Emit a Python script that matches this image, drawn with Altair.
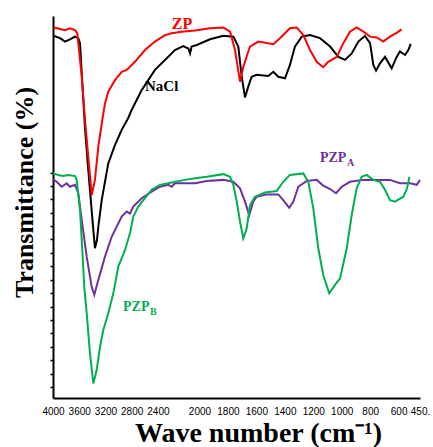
import altair as alt
import pandas as pd

# ---- data (wavenumber cm^-1, transmittance arbitrary %) ----
zp_wn = [3985, 3893, 3817, 3741, 3664, 3629, 3614, 3562, 3512, 3410, 3360, 3309, 3248, 3207, 3157,
         3055, 2952, 2876, 2750, 2597, 2445, 2292, 2195, 2125, 2031, 1926, 1832, 1785, 1750, 1715,
         1692, 1645, 1586, 1481, 1434, 1364, 1317, 1270, 1223, 1176, 1130, 1095, 1035, 989, 942,
         895, 848, 801, 754, 708, 661, 614, 579]
zp_t = [97.0, 96.6, 96.3, 96.8, 96.3, 95.5, 92.9, 84.1, 72.8, 53.1, 57.1, 65.8, 72.8, 77.1, 80.2,
        83.2, 85.4, 85.9, 88.0, 91.1, 93.3, 95.0, 95.5, 95.9, 96.2, 96.8, 97.0, 95.9, 91.1, 82.8,
        86.7, 92.0, 93.3, 92.6, 94.2, 96.8, 97.0, 95.0, 91.1, 88.0, 86.6, 88.0, 89.3, 92.9, 95.9,
        97.0, 95.9, 94.6, 94.4, 93.3, 94.6, 95.6, 96.5]

nacl_wn = [3985, 3893, 3817, 3741, 3664, 3614, 3588, 3512, 3462, 3385, 3360, 3329, 3309, 3257, 3222,
           3157, 3055, 2952, 2852, 2800, 2647, 2597, 2445, 2292, 2172, 2114, 2078, 2066, 2055, 2019,
           1926, 1832, 1762, 1727, 1703, 1680, 1657, 1633, 1598, 1516, 1481, 1446, 1399, 1364, 1329,
           1281, 1223, 1153, 1082, 1024, 977, 930, 883, 837, 801, 778, 759, 731, 696, 649, 614, 591,
           555, 532, 515]
nacl_t = [94.8, 94.2, 93.3, 93.9, 94.6, 94.2, 92.9, 70.6, 59.7, 44.0, 39.2, 41.4, 44.8, 51.8, 55.2,
          61.4, 66.2, 70.2, 73.3, 75.4, 80.6, 81.9, 85.9, 88.5, 91.1, 92.1, 91.5, 90.2, 92.0, 92.4,
          93.9, 94.8, 94.6, 92.0, 84.1, 78.7, 81.5, 84.1, 84.6, 84.3, 85.4, 84.1, 83.7, 87.2, 92.0,
          94.6, 95.0, 94.2, 92.0, 89.3, 88.5, 90.2, 93.3, 94.8, 92.9, 87.2, 85.7, 87.6, 89.3, 86.3,
          89.3, 90.7, 89.8, 91.1, 92.7]

pzpa_wn = [4000, 3944, 3867, 3791, 3741, 3664, 3614, 3562, 3486, 3410, 3370, 3309, 3207, 3105, 2952,
           2876, 2826, 2775, 2647, 2495, 2368, 2242, 2195, 2172, 2102, 2031, 1949, 1832, 1762, 1715,
           1680, 1650, 1622, 1598, 1527, 1446, 1411, 1369, 1340, 1305, 1246, 1176, 1130, 1082, 1040,
           1000, 942, 848, 754, 661, 591, 520, 473, 450]
pzpa_t = [57.3, 56.6, 55.3, 56.2, 55.3, 55.8, 53.6, 46.6, 37.0, 29.1, 27.0, 30.9, 37.0, 42.2, 47.5,
          48.8, 48.3, 50.1, 52.3, 54.0, 55.3, 55.8, 55.3, 56.2, 56.2, 56.2, 56.8, 57.1, 56.6, 54.9,
          51.4, 47.9, 51.4, 52.7, 53.3, 53.3, 51.8, 49.8, 51.4, 55.3, 56.8, 57.1, 55.6, 54.7, 53.6,
          55.3, 56.6, 57.1, 57.1, 57.1, 56.2, 56.2, 55.8, 57.1]

pzpb_wn = [4000, 3919, 3843, 3767, 3664, 3639, 3588, 3553, 3523, 3486, 3436, 3385, 3334, 3283, 3233,
           3157, 3080, 3004, 2902, 2826, 2775, 2699, 2597, 2495, 2368, 2195, 2102, 2031, 1949, 1832,
           1785, 1762, 1738, 1715, 1692, 1668, 1645, 1610, 1539, 1457, 1411, 1364, 1270, 1235, 1200,
           1165, 1130, 1088, 1047, 1012, 965, 930, 895, 860, 825, 778, 731, 696, 661, 626, 567, 541,
           524]
pzpb_t = [58.8, 58.4, 58.1, 58.4, 58.1, 57.1, 49.2, 38.7, 29.1, 22.2, 11.7, 3.8, 7.3, 13.4, 17.8,
          22.2, 27.4, 34.4, 38.7, 43.1, 47.5, 50.1, 52.3, 54.5, 55.8, 56.4, 57.1, 57.5, 57.9, 58.6,
          57.9, 55.8, 51.4, 46.2, 41.8, 44.4, 50.5, 52.7, 53.8, 54.2, 56.6, 58.4, 58.8, 56.6, 49.7,
          39.2, 32.2, 27.4, 29.6, 31.3, 39.2, 47.9, 54.9, 57.9, 58.4, 57.1, 56.6, 54.5, 51.8, 51.4,
          52.7, 54.9, 57.9]

series_names = ["NaCl", "ZP", "PZPA", "PZPB"]
series_colors = ["#000000", "#ff0000", "#7030a0", "#00b050"]

x_ticks = [4000, 3600, 3200, 2800, 2400, 2000, 1800, 1600, 1400, 1200, 1000, 800, 600, 450]
y_ticks = [2.9, 6.4, 9.9, 13.4, 16.9, 20.4, 23.9, 27.4, 30.9, 34.5, 38.0, 41.5, 45.0, 48.5,
           52.0, 55.5, 59.0]

label_text = ["ZP", "NaCl", "PZP", "A", "PZP", "B"]
label_wn = [2195, 2597, 1153, 963, 2932, 2521]
label_t = [97.9, 81.7, 62.8, 61.5, 23.8, 22.5]
label_series = ["ZP", "NaCl", "PZPA", "PZPA", "PZPB", "PZPB"]
label_size = [16, 15, 14, 10, 14, 10]

# ---- build tables ----
rows = []
for name, wn, t in [("NaCl", nacl_wn, nacl_t), ("ZP", zp_wn, zp_t),
                    ("PZPA", pzpa_wn, pzpa_t), ("PZPB", pzpb_wn, pzpb_t)]:
    for i, (w, v) in enumerate(zip(wn, t)):
        rows.append({"series": name, "wn": w, "t": v, "idx": i})
df = pd.DataFrame(rows)

labels = pd.DataFrame({"text": label_text, "wn": label_wn, "t": label_t,
                       "series": label_series, "size": label_size})

xscale = alt.Scale(domain=[4000, 2200, 450], range=[0, 118, 367])
yscale = alt.Scale(domain=[0, 100])
cscale = alt.Scale(domain=series_names, range=series_colors)

serif = "Liberation Serif"

xaxis = alt.Axis(values=x_ticks, format="d", grid=False, ticks=False,
                 labelPadding=8, labelFontSize=10, labelFont="Liberation Sans",
                 labelColor="#000000", labelOverlap=False, labelFlush=False,
                 labelSeparation=0,
                 labelExpr="datum.value == 450 ? '450.' : datum.label",
                 domainColor="#000000", domainWidth=2,
                 title="Wave number (cm\u207b\u00b9)", titleFont=serif,
                 titleFontSize=28, titleFontWeight="bold", titleColor="#000000",
                 titlePadding=3, titleX=205, titleAlign="center")
yaxis = alt.Axis(values=y_ticks, labels=False, grid=False, tickSize=3,
                 tickColor="#000000", tickWidth=1.5,
                 domainColor="#000000", domainWidth=2,
                 title="Transmittance (%)", titleFont=serif, titleFontSize=26,
                 titleFontWeight="bold", titleColor="#000000", titlePadding=12,
                 titleY=176, titleAlign="center")

lines = alt.Chart(df).mark_line(strokeWidth=2).encode(
    x=alt.X("wn:Q", scale=xscale, axis=xaxis),
    y=alt.Y("t:Q", scale=yscale, axis=yaxis),
    color=alt.Color("series:N", scale=cscale, legend=None),
    detail="series:N",
    order="idx:Q",
)

texts = alt.Chart(labels).mark_text(font=serif, fontWeight="bold", align="left",
                                    baseline="middle").encode(
    x=alt.X("wn:Q", scale=xscale, axis=xaxis),
    y=alt.Y("t:Q", scale=yscale, axis=yaxis),
    text="text:N",
    color=alt.Color("series:N", scale=cscale, legend=None),
    size=alt.Size("size:Q", scale=None, legend=None),
)

chart = alt.layer(lines, texts).properties(
    width=367, height=382,
    autosize=alt.AutoSizeParams(type="none"),
    padding={"left": 53, "top": 16, "right": 13, "bottom": 49},
    background="white",
).configure_view(stroke=None).configure_axisX(labelOverlap=False)

chart.save("out.html", embed_options={"renderer": "svg", "actions": False})
